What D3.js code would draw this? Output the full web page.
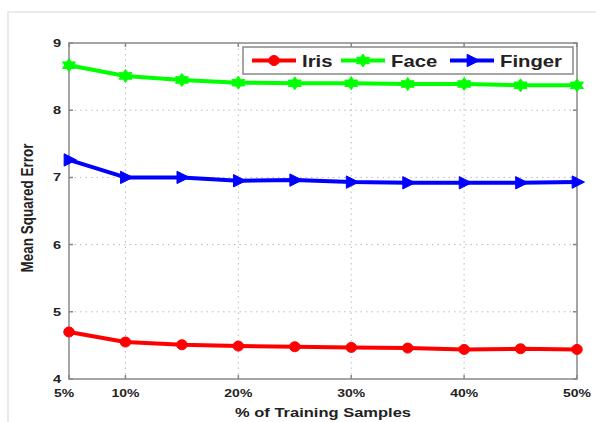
<!DOCTYPE html>
<html>
<head>
<meta charset="utf-8">
<script src="https://cdn.jsdelivr.net/npm/d3@7"></script>
<style>
  body { margin: 0; background: #fff; }
  text { font-family: "Liberation Sans", Arial, sans-serif; font-weight: bold; fill: #222; }
</style>
</head>
<body>
<div id="chart"></div>
<script>
// data
const samples = [5, 10, 15, 20, 25, 30, 35, 40, 45, 50];
const iris   = [4.70, 4.55, 4.51, 4.49, 4.48, 4.47, 4.46, 4.44, 4.45, 4.44];
const face   = [8.67, 8.51, 8.45, 8.41, 8.40, 8.40, 8.39, 8.39, 8.37, 8.37];
const finger = [7.26, 7.00, 7.00, 6.95, 6.96, 6.93, 6.92, 6.92, 6.92, 6.93];
const xTicks = [5, 10, 20, 30, 40, 50];
const yTicks = [4, 5, 6, 7, 8, 9];
const seriesNames = ["Iris", "Face", "Finger"];

function main() {
    const W = 596, H = 422;
    const margin = {top: 43, right: 19, bottom: 43, left: 69};
    const width = W - margin.left - margin.right,
        height = H - margin.top - margin.bottom;
    const sx = 1.27; // the picture is stretched sideways

    const svg = d3.select("#chart").append("svg")
        .attr("width", W).attr("height", H);

    // light outer frame
    svg.append("path")
        .attr("d", `M8,${H} V12 H${W}`)
        .attr("fill", "none").attr("stroke", "#e4e4e4").attr("stroke-width", 1.5);

    const g = svg.append("g").attr("transform", `translate(${margin.left}, ${margin.top})`);

    const x = d3.scaleLinear().domain([5, 50]).range([0, width]);
    const y = d3.scaleLinear().domain([4, 9]).range([height, 0]);

    // dotted grid
    g.append("g").selectAll("line")
        .data(xTicks.filter(d => d > 5 && d < 50))
        .join("line")
        .attr("x1", d => x(d)).attr("x2", d => x(d))
        .attr("y1", 0).attr("y2", height)
        .attr("stroke", "#bbb").attr("stroke-dasharray", "1.5,4");
    g.append("g").selectAll("line")
        .data(yTicks.filter(d => d > 4 && d < 9))
        .join("line")
        .attr("x1", 0).attr("x2", width)
        .attr("y1", d => y(d)).attr("y2", d => y(d))
        .attr("stroke", "#bbb").attr("stroke-dasharray", "1.5,4");

    // axes box
    const ax = g.append("g").attr("stroke", "#888").attr("stroke-width", 1.5).attr("fill", "none");
    ax.append("rect").attr("width", width).attr("height", height);
    ax.selectAll(".tx").data(xTicks).join("path")
        .attr("d", d => `M${x(d)},${height} v-4 M${x(d)},0 v4`);
    ax.selectAll(".ty").data(yTicks).join("path")
        .attr("d", d => `M0,${y(d)} h4 M${width},${y(d)} h-4`);

    // tick labels
    g.selectAll(".xl").data(xTicks).join("text")
        .attr("transform", d => `translate(${x(d) - (d === 5 ? 5 : 0)}, ${height + 18}) scale(${sx},1)`)
        .attr("text-anchor", "middle")
        .style("font-size", "11px")
        .text(d => d + "%");
    g.selectAll(".yl").data(yTicks).join("text")
        .attr("transform", d => `translate(-8, ${y(d) + 4}) scale(${sx},1)`)
        .attr("text-anchor", "end")
        .style("font-size", "11.5px")
        .text(d => d);

    // axis titles
    svg.append("text")
        .attr("transform", `translate(${margin.left + width / 2}, 417) scale(${sx},1)`)
        .attr("text-anchor", "middle")
        .style("font-size", "13px")
        .text("% of Training Samples");
    svg.append("text")
        .attr("transform", `translate(33, 208) scale(${sx},1) rotate(-90)`)
        .attr("text-anchor", "middle")
        .style("font-size", "13.5px")
        .text("Mean Squared Error");

    // markers
    const hexagram = function(r) {
        const pts = [];
        for (let i = 0; i < 12; i++) {
            const a = -Math.PI / 2 + i * Math.PI / 6;
            const rr = i % 2 === 0 ? r : r * 0.58;
            pts.push([rr * Math.cos(a) * 1.15, rr * Math.sin(a)]);
        }
        return "M" + pts.map(p => p.join(",")).join("L") + "Z";
    };
    const triRight = function(r) {
        return `M${r * 1.15},0 L${-r * 0.75},${-r * 0.95} L${-r * 0.75},${r * 0.95} Z`;
    };
    const circle = function(r) {
        return `M${r * 1.05},0 A${r * 1.05},${r} 0 1,1 ${-r * 1.05},0 A${r * 1.05},${r} 0 1,1 ${r * 1.05},0 Z`;
    };

    const series = [
        {name: seriesNames[0], values: iris, color: "#ff0000", marker: circle(5)},
        {name: seriesNames[1], values: face, color: "#00ff00", marker: hexagram(6.5)},
        {name: seriesNames[2], values: finger, color: "#0000ff", marker: triRight(6.5)}
    ];

    const line = d3.line()
        .x((d, i) => x(samples[i]))
        .y(d => y(d));

    series.forEach(s => {
        g.append("path")
            .datum(s.values)
            .attr("fill", "none")
            .attr("stroke", s.color)
            .attr("stroke-width", 4)
            .attr("stroke-linejoin", "round")
            .attr("d", line);
        g.append("g").selectAll("path")
            .data(s.values)
            .join("path")
            .attr("transform", (d, i) => `translate(${x(samples[i])}, ${y(d)})`)
            .attr("d", s.marker)
            .attr("fill", s.color)
            .attr("stroke", s.color)
            .attr("stroke-width", 1);
    });

    // legend
    const leg = svg.append("g");
    leg.append("rect")
        .attr("x", 243).attr("y", 47).attr("width", 330).attr("height", 27)
        .attr("fill", "#fff").attr("stroke", "#888").attr("stroke-width", 1.5);
    const legX = [252, 341, 450];
    series.forEach((s, i) => {
        const lx = legX[i];
        leg.append("line")
            .attr("x1", lx).attr("x2", lx + 44)
            .attr("y1", 60.5).attr("y2", 60.5)
            .attr("stroke", s.color).attr("stroke-width", 4);
        leg.append("path")
            .attr("transform", `translate(${lx + 22}, 60.5)`)
            .attr("d", s.marker)
            .attr("fill", s.color).attr("stroke", s.color);
        leg.append("text")
            .attr("transform", `translate(${lx + 50}, 66.5) scale(${sx},1)`)
            .style("font-size", "16px")
            .text(s.name);
    });
}

main();
</script>
</body>
</html>
